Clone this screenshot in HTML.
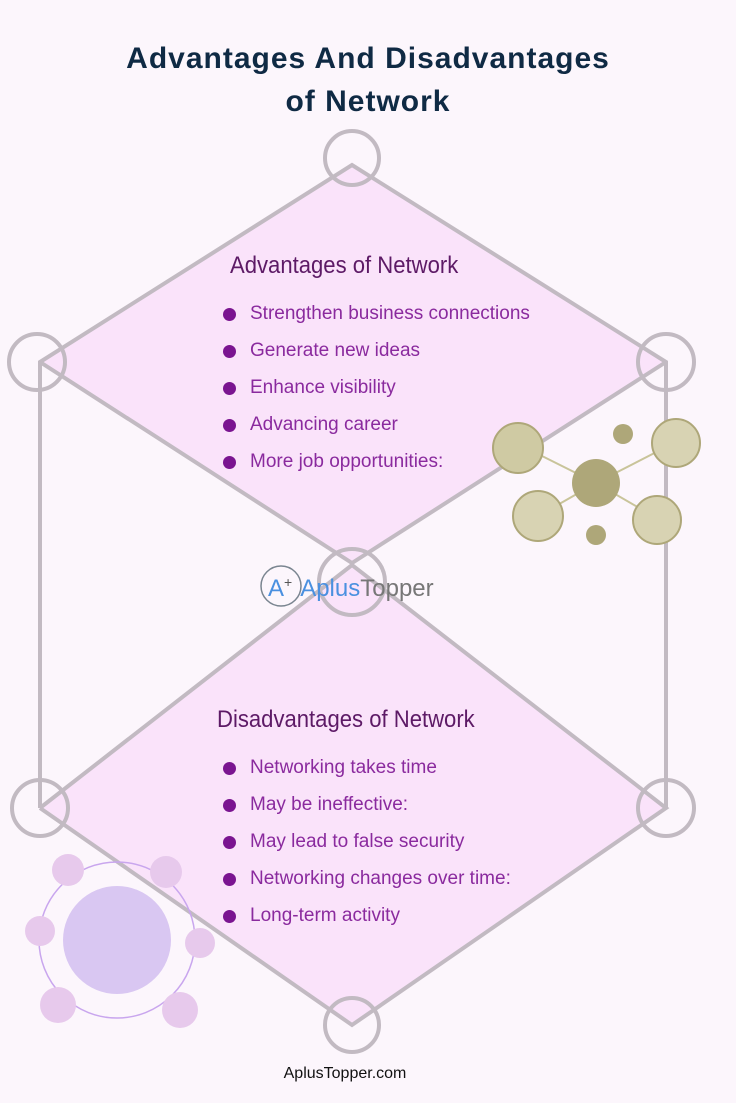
<!DOCTYPE html>
<html><head><meta charset="utf-8"><style>
body{margin:0;width:736px;height:1103px;background:#fcf6fc;position:relative;overflow:hidden;font-family:"Liberation Sans",sans-serif}
.t{position:absolute;left:0;width:736px;text-align:center;font-weight:bold;color:#0f2a44;font-size:30px;letter-spacing:1px}
.h{position:absolute;color:#5d1a66;font-size:24px;transform:scaleX(0.92);transform-origin:left}
ul{position:absolute;margin:0;padding:0;list-style:none}
li{color:#8a2a9e;font-size:19px;height:37px;position:relative;padding-left:27px}
li:before{content:"";position:absolute;left:0;top:5px;width:13px;height:13px;border-radius:50%;background:#7a1490}
</style></head><body>
<svg width="736" height="1103" style="position:absolute;left:0;top:0">
<polygon points="352,165 40,362 352,563 666,362" fill="#fae3fa"/>
<polygon points="352,565 40,808 352,1025 666,808" fill="#fae3fa"/>
<g fill="none" stroke="#c2bac2" stroke-width="4">
<polyline points="40,808 40,362 352,165 666,362 666,808"/>
<polyline points="40,362 352,563 666,362"/>
<polyline points="40,808 352,565 666,808 352,1025 40,808"/>
<circle cx="352" cy="158" r="27"/><circle cx="37" cy="362" r="28"/><circle cx="666" cy="362" r="28"/>
<circle cx="352" cy="582" r="33"/><circle cx="40" cy="808" r="28"/><circle cx="666" cy="808" r="28"/><circle cx="352" cy="1025" r="27"/>
</g>
<g>
<line x1="530" y1="450" x2="596" y2="483" stroke="#c9c49a" stroke-width="2"/><line x1="670" y1="445" x2="596" y2="483" stroke="#c9c49a" stroke-width="2"/>
<line x1="540" y1="515" x2="596" y2="483" stroke="#c9c49a" stroke-width="2"/><line x1="660" y1="520" x2="596" y2="483" stroke="#c9c49a" stroke-width="2"/>
<circle cx="596" cy="483" r="24" fill="#aea779"/><circle cx="518" cy="448" r="25" fill="#cfcaa3" stroke="#aea779" stroke-width="2"/>
<circle cx="676" cy="443" r="24" fill="#d8d3b3" stroke="#aea779" stroke-width="2"/><circle cx="538" cy="516" r="25" fill="#d8d3b3" stroke="#aea779" stroke-width="2"/>
<circle cx="657" cy="520" r="24" fill="#d8d3b3" stroke="#aea779" stroke-width="2"/><circle cx="596" cy="535" r="10" fill="#aea779"/><circle cx="623" cy="434" r="10" fill="#aea779"/>
<circle cx="117" cy="940" r="78" fill="none" stroke="#c9a6ee" stroke-width="1.5"/>
<circle cx="117" cy="940" r="54" fill="#d9c7f2"/>
<circle cx="68" cy="870" r="16" fill="#e7c9ec"/><circle cx="166" cy="872" r="16" fill="#e7c9ec"/><circle cx="40" cy="931" r="15" fill="#e7c9ec"/>
<circle cx="200" cy="943" r="15" fill="#e7c9ec"/><circle cx="58" cy="1005" r="18" fill="#e7c9ec"/><circle cx="180" cy="1010" r="18" fill="#e7c9ec"/>
<circle cx="281" cy="586" r="20" fill="none" stroke="#7a8590" stroke-width="1.5"/>
</g>
</svg>
<div class="t" style="top:42px">Advantages And Disadvantages<br><span style="line-height:52px">of Network</span></div>
<div class="h" style="left:230px;top:252px">Advantages of Network</div>
<ul style="left:223px;top:303px"><li>Strengthen business connections</li><li>Generate new ideas</li><li>Enhance visibility</li><li>Advancing career</li><li>More job opportunities:</li></ul>
<div style="position:absolute;left:268px;top:574px;font-size:24px;color:#4a90e0">A<sup style="font-size:14px;color:#555">+</sup><span style="margin-left:8px">Aplus</span><span style="color:#777">Topper</span></div>
<div class="h" style="left:217px;top:706px">Disadvantages of Network</div>
<ul style="left:223px;top:757px"><li>Networking takes time</li><li>May be ineffective:</li><li>May lead to false security</li><li>Networking changes over time:</li><li>Long-term activity</li></ul>
<div style="position:absolute;left:0;width:690px;text-align:center;top:1065px;font-size:16px;color:#111">AplusTopper.com</div>
</body></html>
